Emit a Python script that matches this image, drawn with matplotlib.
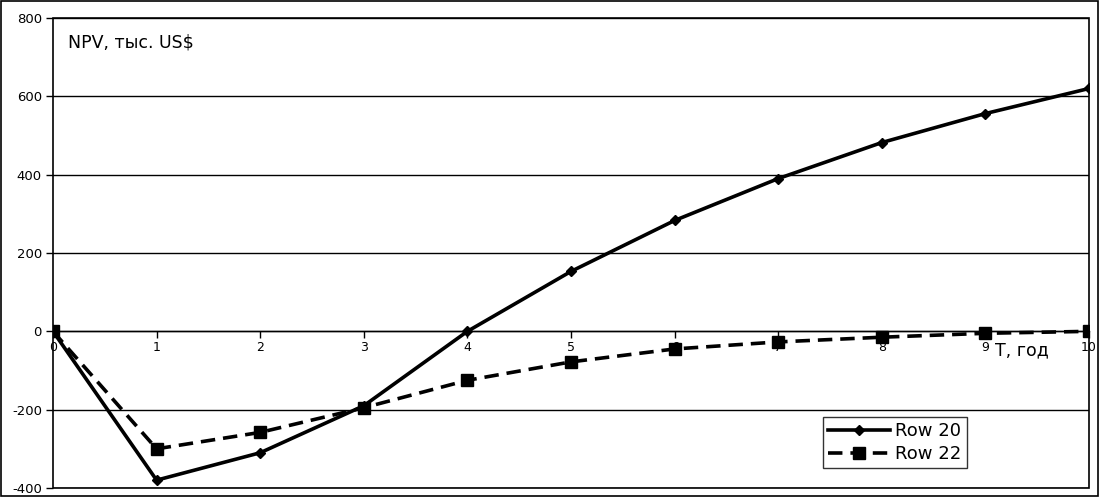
import matplotlib
matplotlib.use("Agg")
import matplotlib.pyplot as plt
from matplotlib.patches import Rectangle

# data
years = [0, 1, 2, 3, 4, 5, 6, 7, 8, 9, 10]
row20 = [0, -380, -310, -190, 0, 153, 283, 390, 482, 556, 620]
row22 = [0, -300, -258, -195, -125, -78, -45, -27, -15, -5, 0]
yticks = [-400, -200, 0, 200, 400, 600, 800]

plt.rcParams['font.family'] = ['DejaVu Sans']
plt.rcParams['axes.unicode_minus'] = False

fig = plt.figure(figsize=(11, 4.97), dpi=100)
ax = fig.add_axes([53 / 1100, 9 / 497, 1036 / 1100, 470 / 497])

# outer frame of the picture
fig.patches.append(Rectangle((0.001, 0.002), 0.997, 0.995, transform=fig.transFigure,
                             fill=False, edgecolor='black', linewidth=1.2))

for y in yticks:
    ax.axhline(y, color='black', linewidth=1, zorder=1)

ax.plot(years, row20, color='black', linewidth=2.6, marker='D', markersize=5.5,
        label='Row 20', zorder=3)
ax.plot(years, row22, color='black', linewidth=2.6, linestyle=(0, (4, 2.2)),
        marker='s', markersize=8, label='Row 22', zorder=3)

ax.set_xlim(0, 10)
ax.set_ylim(-400, 800)
ax.set_yticks(yticks)
ax.set_xticks(years)

# x axis sits on the zero line, keep a box around the plot area
ax.spines['bottom'].set_position(('data', 0))
ax.spines['bottom'].set_linewidth(1)
for s in ['top', 'right', 'left']:
    ax.spines[s].set_visible(False)
ax.add_patch(Rectangle((0, 0), 1, 1, transform=ax.transAxes, fill=False,
                       edgecolor='black', linewidth=1.2, zorder=4, clip_on=False))

ax.tick_params(axis='x', direction='out', length=5, width=1, pad=2, labelsize=9)
ax.tick_params(axis='y', direction='out', length=5, width=1, pad=3, labelsize=9.5)

ax.text(0.0145, 0.947, 'NPV, тыс. US$', transform=ax.transAxes, fontsize=12.5,
        va='center', ha='left')
ax.text(0.909, 0.2936, 'T, год', transform=ax.transAxes, fontsize=12.5,
        va='center', ha='left')

leg = ax.legend(loc='upper left', bbox_to_anchor=(0.743, 0.151), borderaxespad=0,
                fontsize=13, frameon=True, fancybox=False, handlelength=3.4,
                borderpad=0.3, labelspacing=0.25, handletextpad=0.3)
leg.get_frame().set_edgecolor('black')
leg.get_frame().set_linewidth(1)

fig.savefig('out.png', dpi=100)
